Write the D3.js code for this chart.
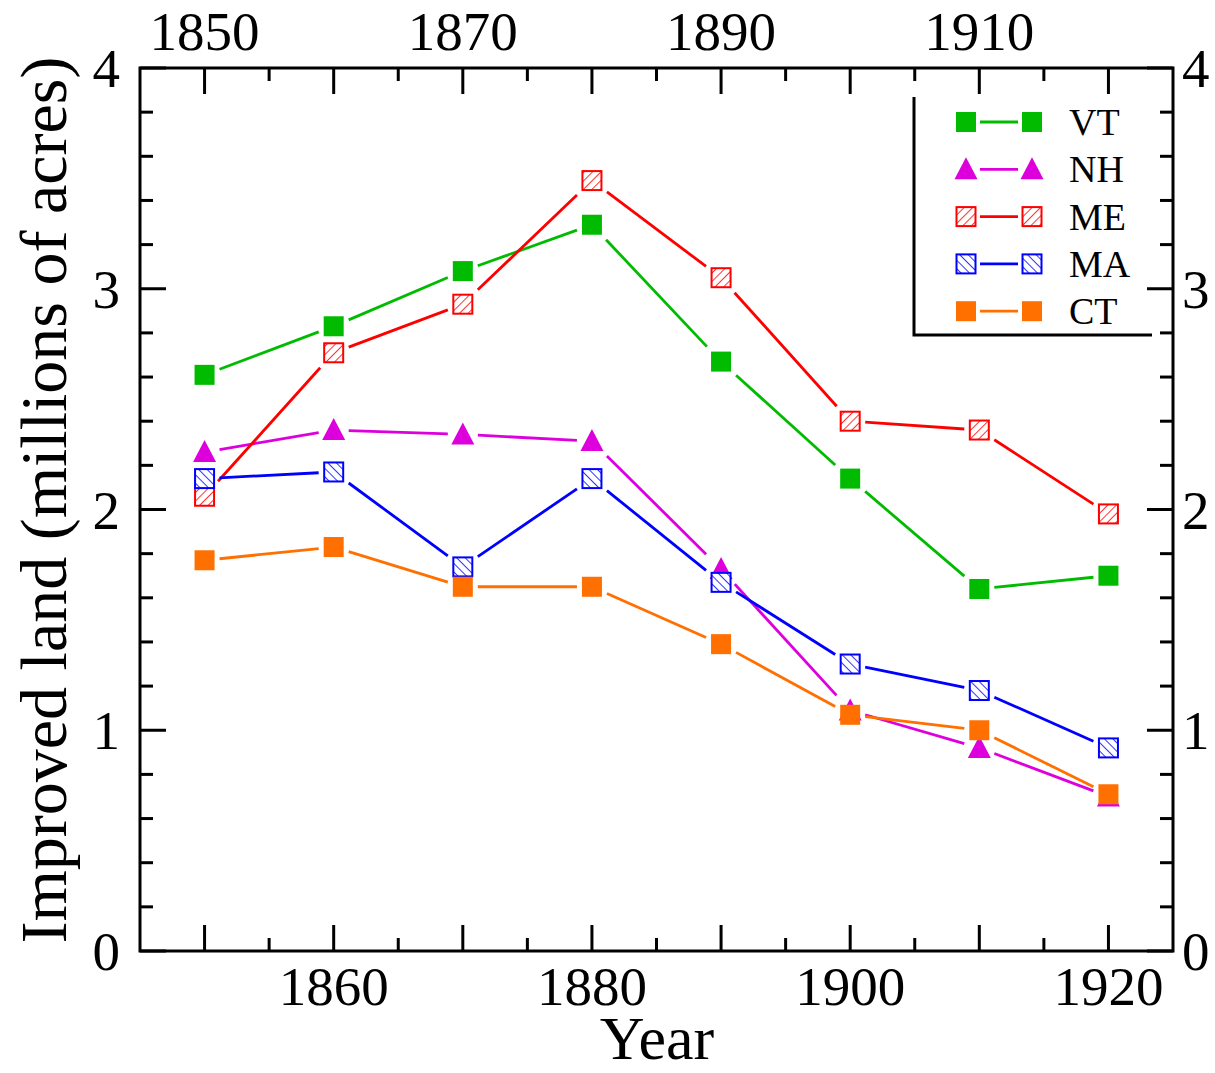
<!DOCTYPE html>
<html><head><meta charset="utf-8">
<script src="https://cdn.jsdelivr.net/npm/d3@7"></script>
<style>body{margin:0;background:#fff}svg{display:block}text{font-family:"Liberation Serif","Times New Roman",serif;fill:#000}</style>
</head><body><svg id="c" width="1215" height="1073"></svg>
<script>
const years = [1850,1860,1870,1880,1890,1900,1910,1920];
const seriesNames = ["VT","NH","ME","MA","CT"];
const VT = [2.61,2.83,3.08,3.29,2.67,2.14,1.64,1.70];
const NH = [2.26,2.36,2.34,2.31,1.73,1.09,0.92,0.70];
const ME = [2.06,2.71,2.93,3.49,3.05,2.40,2.36,1.98];
const MA = [2.14,2.17,1.74,2.14,1.67,1.30,1.18,0.92];
const CT = [1.77,1.83,1.65,1.65,1.39,1.07,1.00,0.71];
const bottomTicks = [1860,1880,1900,1920];
const topTicks = [1850,1870,1890,1910];
const yTicks = [0,1,2,3,4];

const values = {VT,NH,ME,MA,CT};
const colors = {VT:"#00bb00",NH:"#dd00dd",ME:"#ff0000",MA:"#0000ff",CT:"#ff7000"};
const shapes = {VT:"square",NH:"triangle",ME:"hatchR",MA:"hatchL",CT:"square"};

const svg = d3.select("#c");
const L=140, R=1173, T=68, B=951;
const x = d3.scaleLinear().domain([1845,1925]).range([L,R]);
const y = d3.scaleLinear().domain([0,4]).range([B,T]);

const defs = svg.append("defs");
function hatch(id,color,dir){
  const p = defs.append("pattern").attr("id",id).attr("patternUnits","userSpaceOnUse")
    .attr("width",6).attr("height",6).attr("patternTransform",`rotate(${dir})`);
  p.append("rect").attr("width",6).attr("height",6).attr("fill","#fff");
  p.append("line").attr("x1",0).attr("y1",0).attr("x2",0).attr("y2",6).attr("stroke",color).attr("stroke-width",1.6);
}
hatch("hR",colors.ME,45);
hatch("hL",colors.MA,-45);

const axG = svg.append("g");
axG.append("rect").attr("x",L).attr("y",T).attr("width",R-L).attr("height",B-T)
  .attr("fill","none").attr("stroke","#000").attr("stroke-width",3);

const xMajor = d3.range(1850,1925,10), xMinor = d3.range(1855,1925,10);
const yMajor = d3.range(0,4.01,1), yMinor = d3.range(0.2,4,0.2).filter(v=>Math.abs(v-Math.round(v))>1e-6);
function ticks(arr,len,axis){
  arr.forEach(v=>{
    if(axis==="x"){
      axG.append("line").attr("x1",x(v)).attr("x2",x(v)).attr("y1",B).attr("y2",B-len).attr("stroke","#000").attr("stroke-width",3);
      axG.append("line").attr("x1",x(v)).attr("x2",x(v)).attr("y1",T).attr("y2",T+len).attr("stroke","#000").attr("stroke-width",3);
    } else {
      axG.append("line").attr("y1",y(v)).attr("y2",y(v)).attr("x1",L).attr("x2",L+len).attr("stroke","#000").attr("stroke-width",3);
      axG.append("line").attr("y1",y(v)).attr("y2",y(v)).attr("x1",R).attr("x2",R-len).attr("stroke","#000").attr("stroke-width",3);
    }
  });
}
ticks(xMajor,26,"x"); ticks(xMinor,13,"x"); ticks(yMajor,26,"y"); ticks(yMinor,13,"y");

bottomTicks.forEach(v=>axG.append("text").attr("x",x(v)).attr("y",1005).attr("text-anchor","middle").attr("font-size",55).text(v));
topTicks.forEach(v=>axG.append("text").attr("x",x(v)).attr("y",50).attr("text-anchor","middle").attr("font-size",55).text(v));
yTicks.forEach(v=>{
  axG.append("text").attr("x",120).attr("y",y(v)+19).attr("text-anchor","end").attr("font-size",55).text(v);
  axG.append("text").attr("x",1182).attr("y",y(v)+19).attr("text-anchor","start").attr("font-size",55).text(v);
});
svg.append("text").attr("x",657).attr("y",1059).attr("text-anchor","middle").attr("font-size",62).text("Year");
svg.append("text").attr("transform","translate(66,500) rotate(-90)").attr("text-anchor","middle").attr("font-size",66).text("Improved land (millions of acres)");

function marker(g,name,cx,cy){
  const s = shapes[name], c = colors[name];
  if(s==="square"){
    g.append("rect").attr("x",cx-10).attr("y",cy-10).attr("width",20).attr("height",20).attr("fill",c);
  } else if(s==="triangle"){
    g.append("path").attr("d",`M${cx},${cy-12}L${cx+11.5},${cy+10}L${cx-11.5},${cy+10}Z`).attr("fill",c);
  } else {
    g.append("rect").attr("x",cx-9.5).attr("y",cy-9.5).attr("width",19).attr("height",19)
      .attr("fill",s==="hatchR"?"url(#hR)":"url(#hL)").attr("stroke",c).attr("stroke-width",2);
  }
}
function gapSeg(g,c,x1,y1,x2,y2,h){
  const dx=x2-x1, dy=y2-y1, len=Math.hypot(dx,dy);
  const m=Math.max(Math.abs(dx),Math.abs(dy))/len;
  const t=h/m;
  if(len<=2*t) return;
  const ux=dx/len, uy=dy/len;
  g.append("line").attr("x1",x1+ux*t).attr("y1",y1+uy*t).attr("x2",x2-ux*t).attr("y2",y2-uy*t)
    .attr("stroke",c).attr("stroke-width",2.8);
}

const plot = svg.append("g");
seriesNames.forEach(name=>{
  const g = plot.append("g");
  const v = values[name];
  for(let i=0;i<years.length-1;i++){
    gapSeg(g,colors[name],x(years[i]),y(v[i]),x(years[i+1]),y(v[i+1]),15);
  }
  years.forEach((yr,i)=>marker(g,name,x(yr),y(v[i])));
});

const lg = svg.append("g");
lg.append("path").attr("d","M914,97V335H1152").attr("fill","none").attr("stroke","#000").attr("stroke-width",3);
seriesNames.forEach((name,i)=>{
  const cy = 122 + i*47.3;
  lg.append("line").attr("x1",980).attr("x2",1018).attr("y1",cy).attr("y2",cy).attr("stroke",colors[name]).attr("stroke-width",2.8);
  marker(lg,name,966,cy); marker(lg,name,1032,cy);
  lg.append("text").attr("x",1069).attr("y",cy+13).attr("font-size",38).text(name);
});
</script></body></html>
